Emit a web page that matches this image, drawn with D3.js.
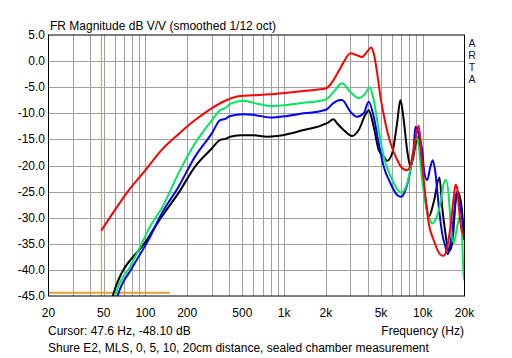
<!DOCTYPE html>
<html>
<head>
<meta charset="utf-8">
<script src="https://cdnjs.cloudflare.com/ajax/libs/d3/7.8.5/d3.min.js"></script>
<style>
body { margin: 0; background: #fff; }
svg text { font-family: "Liberation Sans", Arial, sans-serif; font-size: 12px; fill: #000; }
</style>
</head>
<body>
<svg id="canvas" width="512" height="358"></svg>
<script>
// frequency response, 1/12 oct smoothed, dB V/V
var red = [[48,-32.5],[60,-28.6],[75,-24.9],[100,-20.9],[131,-17.0],[173,-14.0],[228,-11.3],[302,-9.0],[376,-7.6],
    [483,-6.7],[600,-6.55],[795,-6.36],[1050,-6.05],[1384,-5.73],[1826,-5.4],[2018,-5.2],[2276,-3.6],[2500,-1.7],
    [2690,-0.2],[3006,1.5],[3360,1.1],[3650,0.8],[3966,1.8],[4240,2.6],[4430,1.5],[4690,-2.3],[4950,-6.8],
    [5380,-11.9],[5850,-15.7],[6530,-18.9],[7100,-20.5],[7710,-20.9],[8150,-19.9],[8610,-17.0],[9100,-13.2],
    [9360,-12.4],[9900,-19.6],[10460,-26.0],[11040,-31.1],[12000,-34.3],[13420,-37.1],[14180,-37.3],[15000,-35.6],
    [15840,-31.7],[16740,-26.0],[17220,-23.7],[17700,-24.3],[18200,-27.9],[18700,-31.0],[19680,-33.3]];

var green = [[57,-48],[60.4,-45],[77.5,-39.4],[91.5,-35.6],[108,-31.7],[133,-27.9],[173,-21.5],[228,-15.75],[302,-11.3],
    [346,-9.4],[376,-9.0],[409,-8.2],[510,-7.6],[602,-8.0],[795,-8.6],[1050,-8.4],[1384,-8.0],[1826,-7.6],[2018,-7.3],
    [2276,-5.9],[2500,-4.6],[2618,-4.25],[3006,-5.9],[3450,-7.1],[3856,-6.2],[4142,-5.0],[4430,-7.45],[4810,-13.2],
    [5226,-18.3],[5850,-22.0],[6530,-24.5],[7000,-25.2],[7710,-23.5],[8150,-20.5],[8600,-17.0],[8860,-15.1],
    [9100,-14.5],[9360,-16.4],[9900,-22.8],[10460,-27.2],[11040,-29.8],[11690,-31.1],[12350,-30.4],[13420,-27.2],
    [14180,-23.4],[14760,-22.8],[15400,-26.0],[16020,-32.4],[16740,-34.9],[17700,-31.7],[18500,-29.8],[19240,-34.3],
    [19750,-41.3],[20000,-42]];

var blue = [[59,-48],[63,-45],[79.8,-39.7],[105,-34.3],[131,-29.2],[173,-24.1],[228,-18.3],[302,-13.8],[346,-11.3],
    [376,-11.1],[409,-10.5],[510,-10.2],[602,-10.3],[795,-10.8],[1050,-10.5],[1384,-10.0],[1826,-9.6],[2040,-9.2],
    [2276,-8.0],[2540,-7.45],[2618,-7.45],[3006,-9.7],[3360,-10.65],[3750,-10.0],[4074,-7.8],[4430,-10.65],
    [4810,-15.75],[5226,-20.2],[5850,-23.4],[6530,-25.65],[6970,-26.0],[7500,-24.7],[8150,-20.9],[8600,-16.5],
    [8860,-12.6],[9360,-14.0],[9900,-17.0],[10280,-21.5],[10760,-22.8],[11360,-20.2],[11820,-19.0],[12350,-21.5],
    [13050,-27.9],[13800,-33.0],[14580,-35.6],[15140,-37.0],[15840,-34.9],[16740,-29.8],[17500,-25.3],[18500,-27.2],
    [19240,-30.4],[19750,-34.3]];

var black = [[55,-48],[58.4,-44.8],[102,-34.3],[131,-29.8],[173,-25.3],[228,-20.2],[302,-16.7],[346,-15.1],[376,-14.9],
    [409,-14.5],[483,-14.2],[602,-14.2],[752,-14.5],[889,-14.35],[1050,-14.0],[1384,-13.2],[1826,-12.4],[2040,-11.9],
    [2276,-11.15],[2410,-11.9],[2690,-13.2],[3090,-14.35],[3450,-13.2],[3856,-10.3],[4074,-9.4],[4430,-12.6],
    [4810,-17.0],[5226,-18.3],[5532,-19.1],[6012,-17.7],[6530,-11.9],[6900,-7.45],[7290,-11.3],[7710,-17.0],
    [8150,-20.2],[8600,-18.0],[8860,-16.0],[9200,-14.5],[9600,-17.0],[9900,-21.5],[10460,-26.6],[11040,-29.8],
    [12000,-27.0],[13200,-22.3],[13800,-27.9],[14580,-33.0],[15400,-36.5],[16300,-34.9],[17220,-27.2],[17700,-25.0],
    [18500,-26.0],[19240,-29.0],[19750,-33.0]];

var series = [
    { c: '#000000', d: black },
    { c: '#0000ff', d: blue },
    { c: '#00e860', d: green },
    { c: '#ff0000', d: red }
];

var xTicks = [20, 50, 100, 200, 500, 1000, 2000, 5000, 10000, 20000];
var xTickLabels = ['20', '50', '100', '200', '500', '1k', '2k', '5k', '10k', '20k'];
var xGrid = [30, 40, 50, 60, 70, 80, 90, 100, 200, 300, 400, 500, 600, 700, 800, 900, 1000,
    2000, 3000, 4000, 5000, 6000, 7000, 8000, 9000, 10000];
var yTicks = [5, 0, -5, -10, -15, -20, -25, -30, -35, -40, -45];

var cursorFreq = 47.6;
var cursorLevel = -44.4;
var cursorEnd = 150;

var L = 48.5, R = 464.5, T = 35, B = 296;

var x = d3.scaleLog().domain([20, 20000]).range([L, R]);
var y = d3.scaleLinear().domain([-45, 5]).range([B, T]);

var svg = d3.select('#canvas');

svg.append('defs').append('clipPath').attr('id', 'plot')
    .append('rect').attr('x', L).attr('y', T).attr('width', R - L).attr('height', B - T);

// grid
svg.append('g').selectAll('line').data(xGrid).enter().append('line')
    .attr('x1', function(d) { return Math.round(x(d)) + 0.5; })
    .attr('x2', function(d) { return Math.round(x(d)) + 0.5; })
    .attr('y1', T).attr('y2', B)
    .attr('stroke', '#a0a0a0').attr('stroke-width', 1);

svg.append('g').selectAll('line').data(yTicks.slice(1, -1)).enter().append('line')
    .attr('x1', L).attr('x2', R)
    .attr('y1', function(d) { return Math.round(y(d)) + 0.5; })
    .attr('y2', function(d) { return Math.round(y(d)) + 0.5; })
    .attr('stroke', '#a0a0a0').attr('stroke-width', 1);

// cursor (drawn outside the clip group)
var cx = Math.round(x(cursorFreq)) + 0.5;
svg.append('path')
    .attr('d', 'M' + cx + ',' + T + 'V' + B)
    .attr('stroke', '#e0a030').attr('stroke-width', 1.2).attr('fill', 'none');
svg.append('path')
    .attr('d', 'M' + L + ',' + y(cursorLevel) + 'H' + x(cursorEnd))
    .attr('stroke', '#e0a030').attr('stroke-width', 2).attr('fill', 'none');

// curves
var plot = svg.append('g').attr('clip-path', 'url(#plot)');
var line = d3.line()
    .x(function(d) { return x(d[0]); })
    .y(function(d) { return y(d[1]); })
    .curve(d3.curveMonotoneX);

plot.selectAll('path.curve').data(series).enter().append('path')
    .attr('class', 'curve')
    .attr('d', function(s) { return line(s.d); })
    .attr('fill', 'none')
    .attr('stroke', function(s) { return s.c; })
    .attr('stroke-width', 2)
    .attr('stroke-linejoin', 'round');

// frame
svg.append('rect')
    .attr('x', L).attr('y', T).attr('width', R - L).attr('height', B - T)
    .attr('fill', 'none').attr('stroke', '#000').attr('stroke-width', 1);

// labels
svg.append('g').selectAll('text').data(yTicks).enter().append('text')
    .attr('x', 45).attr('y', function(d) { return y(d) + 4; })
    .attr('text-anchor', 'end')
    .text(function(d) { return d.toFixed(1); });

svg.append('g').selectAll('text').data(xTicks).enter().append('text')
    .attr('x', function(d) { return x(d); }).attr('y', 317)
    .attr('text-anchor', 'middle')
    .text(function(d, i) { return xTickLabels[i]; });

svg.append('text').attr('x', 50).attr('y', 30)
    .text('FR Magnitude dB V/V (smoothed 1/12 oct)');

svg.append('g').selectAll('text').data(['A', 'R', 'T', 'A']).enter().append('text')
    .attr('x', 472).attr('y', function(d, i) { return 47 + i * 12; })
    .attr('text-anchor', 'middle')
    .style('font-size', '10.5px')
    .style('fill', '#101050')
    .text(function(d) { return d; });

svg.append('text').attr('x', 48).attr('y', 335)
    .text('Cursor: 47.6 Hz, -48.10 dB');
svg.append('text').attr('x', 464).attr('y', 335).attr('text-anchor', 'end')
    .text('Frequency (Hz)');
svg.append('text').attr('x', 48).attr('y', 352)
    .text('Shure E2, MLS, 0, 5, 10, 20cm distance, sealed chamber measurement');
</script>
</body>
</html>
